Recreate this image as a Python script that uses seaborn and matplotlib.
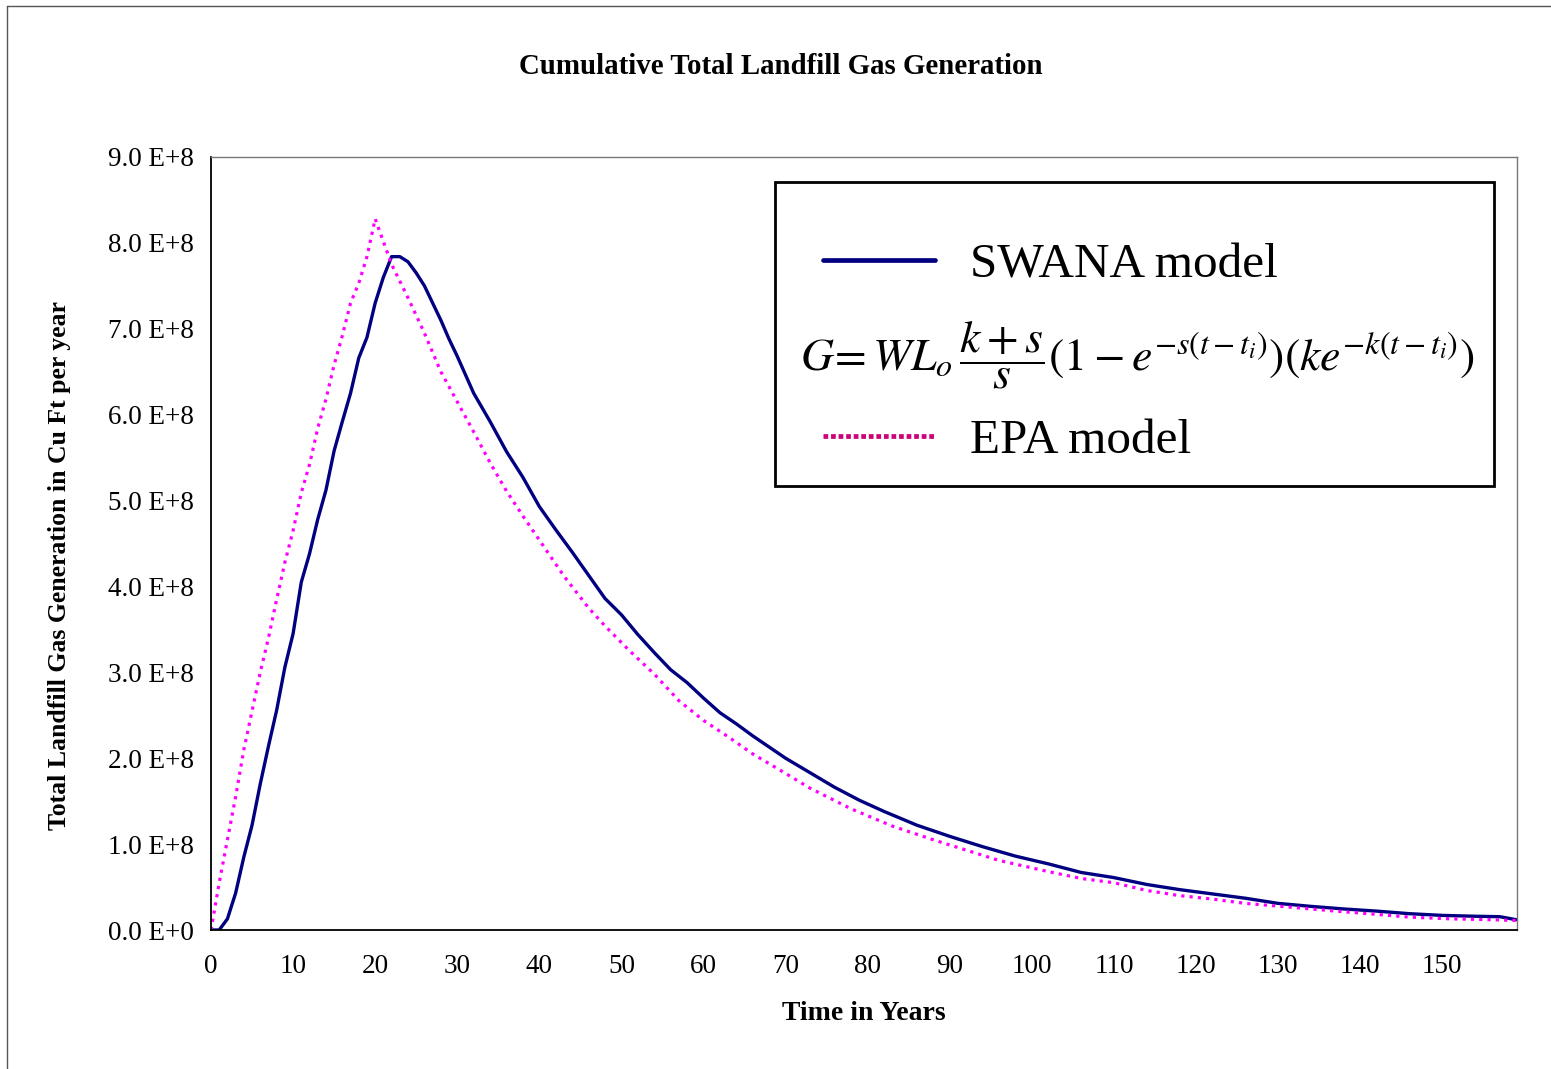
import numpy as np
import pandas as pd
import matplotlib
matplotlib.use("Agg")
import matplotlib.pyplot as plt
import seaborn as sns
from matplotlib.lines import Line2D
from matplotlib.patches import Rectangle
from matplotlib.ticker import FuncFormatter

# values (gas generation in units of 1e8 cu ft / year)
swana_years = [0, 1, 2, 3, 4, 5, 6, 7, 8, 9, 10, 11, 12, 13, 14, 15, 16, 17, 18, 19, 20,
               21, 22, 23, 24, 25, 26, 27, 28, 29, 30, 32, 34, 36, 38, 40, 42, 44, 46, 48,
               50, 52, 54, 56, 58, 60, 62, 64, 66, 68, 70, 73, 76, 79, 82, 86, 90, 94, 98,
               102, 106, 110, 114, 118, 122, 126, 130, 134, 138, 142, 146, 150, 154, 157, 159]
swana_gas = [0.0, 0.0, 0.13, 0.43, 0.85, 1.22, 1.70, 2.14, 2.56, 3.06, 3.45, 4.05, 4.38, 4.78,
             5.12, 5.58, 5.92, 6.25, 6.66, 6.90, 7.30, 7.60, 7.84, 7.84, 7.78, 7.65, 7.50,
             7.30, 7.10, 6.88, 6.68, 6.25, 5.92, 5.57, 5.27, 4.93, 4.66, 4.40, 4.13, 3.86,
             3.67, 3.44, 3.23, 3.03, 2.88, 2.70, 2.53, 2.40, 2.26, 2.13, 2.00, 1.83, 1.66,
             1.51, 1.38, 1.22, 1.09, 0.97, 0.86, 0.77, 0.67, 0.61, 0.53, 0.47, 0.42, 0.37,
             0.31, 0.275, 0.245, 0.22, 0.19, 0.17, 0.16, 0.155, 0.12]

epa_years = [0, 1, 2, 3, 4, 5, 6, 7, 8, 9, 10, 11, 12, 13, 14, 15, 16, 17, 18, 19, 20,
             22, 24, 26, 28, 30, 32, 34, 36, 38, 40, 43, 46, 48, 51, 54, 57, 60, 63, 66,
             69, 73, 78, 83, 88, 92, 96, 102, 106, 110, 114, 118, 122, 126, 131, 137, 141,
             146, 151, 156, 159]
epa_gas = [0.0, 0.55, 1.05, 1.55, 2.10, 2.55, 3.00, 3.40, 3.85, 4.28, 4.65, 5.09, 5.42, 5.84,
           6.18, 6.58, 6.92, 7.30, 7.53, 7.84, 8.28, 7.75, 7.36, 6.95, 6.50, 6.15, 5.80,
           5.44, 5.11, 4.82, 4.54, 4.12, 3.75, 3.54, 3.25, 2.98, 2.67, 2.44, 2.25, 2.05,
           1.88, 1.65, 1.41, 1.21, 1.05, 0.93, 0.81, 0.68, 0.60, 0.55, 0.46, 0.40, 0.36,
           0.31, 0.27, 0.22, 0.19, 0.15, 0.13, 0.12, 0.11]

x_ticks = list(range(0, 151, 10))
y_ticks = [i * 1e8 for i in range(10)]

swana = pd.DataFrame({"year": swana_years, "gas": np.array(swana_gas) * 1e8})
epa = pd.DataFrame({"year": epa_years, "gas": np.array(epa_gas) * 1e8})

sns.set_style("white")
plt.rcParams["font.family"] = ["Liberation Serif", "DejaVu Serif"]
plt.rcParams["mathtext.fontset"] = "stix"
plt.rcParams["text.color"] = "black"

W, H = 1551, 1069
fig = plt.figure(figsize=(W / 100, H / 100), dpi=100)
ax = fig.add_axes([211 / W, 1 - 930 / H, (1517 - 211) / W, (930 - 157) / H])

sns.lineplot(data=swana, x="year", y="gas", color="#000080", linewidth=2.4, ax=ax)
sns.lineplot(data=epa, x="year", y="gas", color="#FF00FF", linewidth=2.3,
             linestyle=(0, (1, 1.6)), ax=ax)

ax.set_xlim(0, 159.1)
ax.set_ylim(0, 9e8)
ax.set_xticks(x_ticks)
ax.set_yticks(y_ticks)
ax.yaxis.set_major_formatter(FuncFormatter(
    lambda v, p: "0.0 E+0" if v == 0 else f"{v / 1e8:.1f} E+8"))
ax.tick_params(axis="x", direction="inout", length=11, width=1, color="#555555",
               labelsize=19.5, labelcolor="black", pad=12)
ax.tick_params(axis="y", direction="out", length=6.5, width=1, color="#222222",
               labelsize=19.5, labelcolor="black", pad=6)
ax.set_xlabel("")
ax.set_ylabel("")
for side in ["left", "bottom"]:
    ax.spines[side].set_color("black")
    ax.spines[side].set_linewidth(1.3)
for side in ["top", "right"]:
    ax.spines[side].set_color("#777777")
    ax.spines[side].set_linewidth(1.0)

fig.text(781 / W, 1 - 66 / H, "Cumulative Total Landfill Gas Generation",
         ha="center", va="center", fontsize=20.8, fontweight="bold")
fig.text(864 / W, 1 - 1013 / H, "Time in Years", ha="center", va="center",
         fontsize=20, fontweight="bold")
fig.text(60 / W, 1 - 566 / H, "Total Landfill Gas Generation in Cu Ft per year",
         ha="center", va="center", rotation=90, fontsize=18.5, fontweight="bold")

# legend box with the model equation
box = Rectangle((775 / W, 1 - 486 / H), (1494 - 775) / W, (486 - 182) / H,
                transform=fig.transFigure, fill=False, edgecolor="black", linewidth=2)
fig.add_artist(box)
handles = [Line2D([], [], color="#000080", linewidth=3.4),
           Line2D([], [], color="#CC0077", linewidth=3.4, linestyle=(0, (1, 0.6)))]
leg = ax.legend(handles, ["SWANA model", "EPA model"], loc="upper left",
                bbox_to_anchor=(823 / W, 1 - 243 / H), bbox_transform=fig.transFigure,
                frameon=False, fontsize=35.5, handlelength=2.27, handletextpad=0.71,
                borderpad=0, borderaxespad=0, labelspacing=2.66)
for t in leg.get_texts():
    t.set_color("black")
fig.text(1137 / W, 1 - 355 / H,
         r"$G\!=WL_o\,\dfrac{k+s}{s}(1-e^{-s(t-t_i)})(ke^{-k(t-t_i)})$",
         ha="center", va="center", fontsize=33)

# outer chart border
fig.add_artist(Line2D([7 / W, 1.0], [1 - 6 / H, 1 - 6 / H], transform=fig.transFigure,
                      color="#555555", linewidth=1))
fig.add_artist(Line2D([7 / W, 7 / W], [0, 1 - 6 / H], transform=fig.transFigure,
                      color="#555555", linewidth=1))

fig.savefig("out.png", dpi=100)
